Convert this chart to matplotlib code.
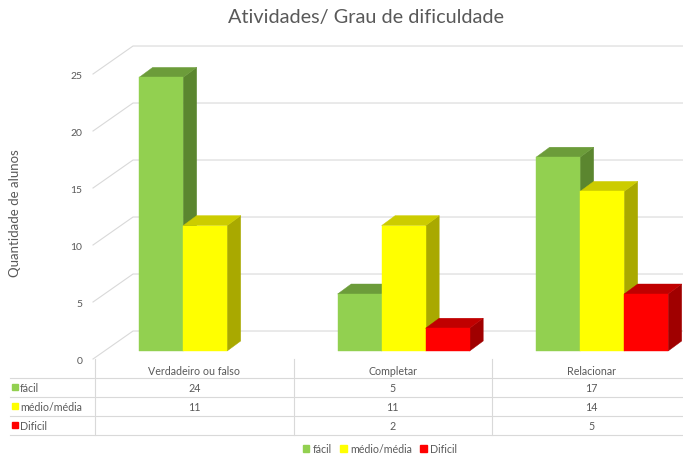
import numpy as np
import matplotlib.pyplot as plt
from matplotlib.patches import Polygon, Patch

plt.rcParams['font.family'] = ['Lato', 'DejaVu Sans']

# data
categories = ["Verdadeiro ou falso", "Completar", "Relacionar"]
series_names = ["fácil", "médio/média", "Dificil"]
facil = [24, 5, 17]
medio = [11, 11, 14]
dificil = [np.nan, 2, 5]
yticks = [0, 5, 10, 15, 20, 25]

front_colors = ["#92D050", "#FFFF00", "#FF0000"]
top_colors = ["#6C9C3A", "#CCCC00", "#C00000"]
side_colors = ["#5B862F", "#A9A900", "#A00000"]
text_color = "#595959"
grid_color = "#D9D9D9"

fig = plt.figure(figsize=(6.83, 4.56), dpi=100)
ax = fig.add_axes([0.1391, 0.2105, 0.8719, 0.70])
ax.set_xlim(-0.5, 2.5)
ax.set_ylim(0, 28)
for s in ax.spines.values():
    s.set_visible(False)
ax.set_xticks([])
ax.set_yticks(yticks)
ax.set_yticklabels([str(t) for t in yticks], color=text_color, fontsize=7.5)
ax.tick_params(axis='y', length=0, pad=9)

# depth of the "3d" box: back wall offset in data units
wall_dx, wall_dy = 0.1914, 2.456
t_front, t_back = 0.286, 0.643

# gridlines: diagonal on the left wall, then horizontal along the back wall
for v in yticks:
    ax.plot([-0.51, -0.5 + wall_dx, 2.5], [v, v + wall_dy, v + wall_dy],
            color=grid_color, lw=0.8, zorder=1, clip_on=False)

# 3d bars
w = 0.2217
base = wall_dy * t_front
fx = wall_dx * t_front
dx = wall_dx * (t_back - t_front)
dy = wall_dy * (t_back - t_front)
series = [facil, medio, dificil]
for i in range(len(categories)):
    for k, vals in enumerate(series):
        h = vals[i]
        if np.isnan(h):
            continue
        x0 = i + (k - 1.5) * w + fx
        b = base
        side = [(x0 + w, b), (x0 + w + dx, b + dy), (x0 + w + dx, b + h + dy), (x0 + w, b + h)]
        top = [(x0, b + h), (x0 + w, b + h), (x0 + w + dx, b + h + dy), (x0 + dx, b + h + dy)]
        front = [(x0, b), (x0 + w, b), (x0 + w, b + h), (x0, b + h)]
        for poly, c in [(side, side_colors[k]), (top, top_colors[k]), (front, front_colors[k])]:
            ax.add_patch(Polygon(poly, closed=True, facecolor=c, edgecolor=c, lw=0.3,
                                 zorder=2, clip_on=False))

fig.text(366 / 683, 1 - 18 / 456, "Atividades/ Grau de dificuldade", ha='center', va='center',
         fontsize=14.3, color=text_color)
fig.text(15 / 683, 1 - 213 / 456, "Quantidade de alunos", rotation=90, ha='center', va='center',
         fontsize=9.5, color=text_color)

# data table below the chart
tax = fig.add_axes([0.1391, 0.0439, 0.8719, 0.1667])
tax.set_xlim(-0.5, 2.5)
tax.set_ylim(4, 0)
tax.axis('off')
left = -0.928
for r in range(1, 5):
    tax.plot([left, 2.5], [r, r], color=grid_color, lw=0.8, clip_on=False)
for c in [-0.5, 0.5, 1.5]:
    tax.plot([c, c], [0, 4], color=grid_color, lw=0.8, clip_on=False)
for i, cat in enumerate(categories):
    tax.text(i, 0.6, cat, ha='center', va='center', fontsize=7.7, color=text_color)
for r, (name, vals) in enumerate(zip(series_names, series)):
    y = r + 1.5
    tax.plot([-0.903], [y], marker='s', markersize=4.5, color=front_colors[r], clip_on=False)
    tax.text(-0.878, y, name, ha='left', va='center', fontsize=7.7, color=text_color)
    for i, v in enumerate(vals):
        if not np.isnan(v):
            tax.text(i, y, str(int(v)), ha='center', va='center', fontsize=7.7, color=text_color)

handles = [Patch(facecolor=c, edgecolor=c) for c in front_colors]
leg = fig.legend(handles, series_names, loc='center', bbox_to_anchor=(380 / 683, 6 / 456),
                 ncol=3, frameon=False, fontsize=7.7, handlelength=0.6, handleheight=0.6,
                 handletextpad=0.3, columnspacing=0.8)
for t in leg.get_texts():
    t.set_color(text_color)

fig.savefig("out.png", dpi=100)
